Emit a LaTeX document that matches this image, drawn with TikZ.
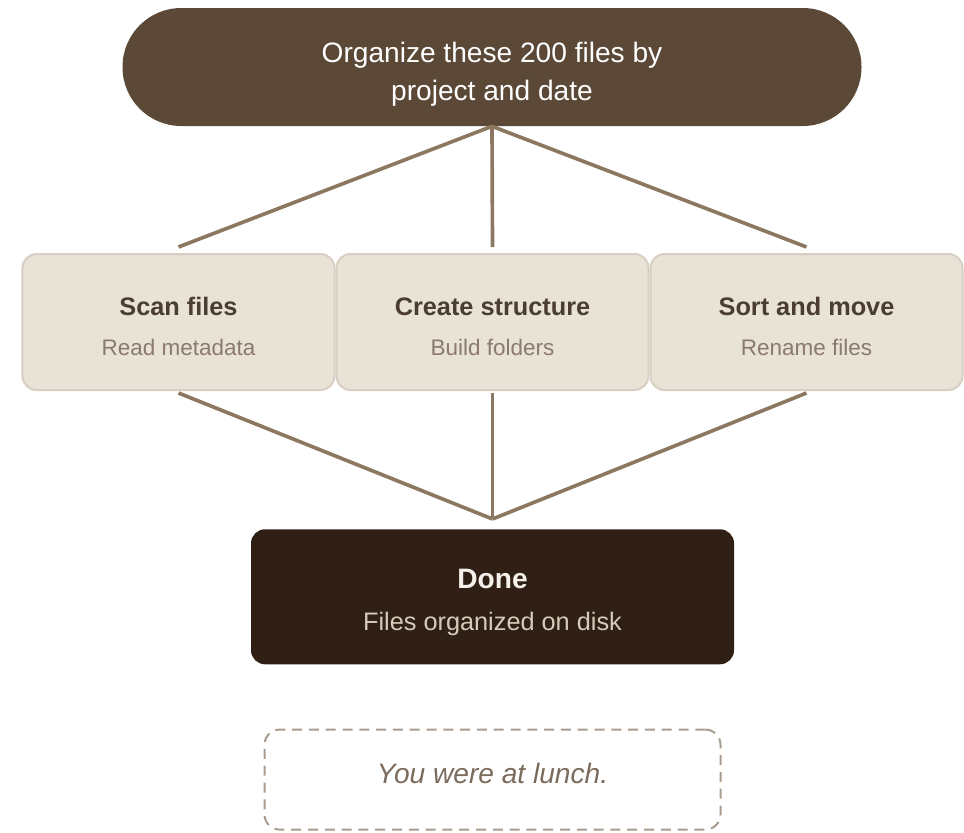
\documentclass[tikz,border=0pt]{standalone}
\usepackage{fontspec}
\setmainfont{Liberation Sans}
\usetikzlibrary{positioning}

\definecolor{goalfill}{HTML}{5B4836}
\definecolor{linkcol}{HTML}{8C7761}
\definecolor{stepfill}{HTML}{E9E2D7}
\definecolor{stepline}{HTML}{D8CFC2}
\definecolor{titlecol}{HTML}{4A3D31}
\definecolor{subcol}{HTML}{8A7B6C}
\definecolor{donefill}{HTML}{2F1F14}
\definecolor{donetitle}{HTML}{F5F1EA}
\definecolor{donesub}{HTML}{D6CBBB}
\definecolor{dashcol}{HTML}{A99C8D}
\definecolor{lunchcol}{HTML}{7B6B5C}

\begin{document}
\begin{tikzpicture}[
	goalbox/.style={fill=goalfill, rounded corners=1.47cm,
		minimum width=18.475cm, minimum height=2.95cm},
	stepbox/.style={draw=stepline, fill=stepfill, line width=0.05cm,
		rounded corners=0.35cm, minimum width=7.8cm, minimum height=3.4cm},
	donebox/.style={fill=donefill, rounded corners=0.35cm,
		minimum width=12.075cm, minimum height=3.375cm},
	notebox/.style={draw=dashcol, line width=0.05cm, dash pattern=on 0.25cm off 0.17cm,
		rounded corners=0.38cm, minimum width=11.4cm, minimum height=2.5cm},
	steptitle/.style={anchor=base, text=titlecol, font=\fontsize{18}{22}\selectfont\bfseries},
	stepsub/.style={anchor=base, text=subcol, font=\fontsize{16}{20}\selectfont},
	link/.style={draw=linkcol, line width=2.6pt}]

	\useasboundingbox (0,0) rectangle (24.1,-20.8);

	% Goal at the top
	\node (goal) [goalbox] at (12.3,-1.675) {};
	\node (goaltext) [align=center, text=white, font=\fontsize{20}{27}\selectfont]
		at ([yshift=-0.17cm]goal.center) {Organize these 200 files by\\project and date};

	% The three steps
	\node (scan) [stepbox] at (4.4625,-8.05) {};
	\node (create) [stepbox, right=0cm of scan] {};
	\node (sort) [stepbox, right=0cm of create] {};

	\node (scant) [steptitle] at ([yshift=0.175cm]scan.center) {Scan files};
	\node (scans) [stepsub] at ([yshift=-0.825cm]scan.center) {Read metadata};
	\node (createt) [steptitle] at ([yshift=0.175cm]create.center) {Create structure};
	\node (creates) [stepsub] at ([yshift=-0.825cm]create.center) {Build folders};
	\node (sortt) [steptitle] at ([yshift=0.175cm]sort.center) {Sort and move};
	\node (sorts) [stepsub] at ([yshift=-0.825cm]sort.center) {Rename files};

	% Result
	\node (done) [donebox, below=3.45cm of create] {};
	\node (donet) [anchor=base, text=donetitle, font=\fontsize{20}{24}\selectfont\bfseries]
		at ([yshift=0.2125cm]done.center) {Done};
	\node (dones) [anchor=base, text=donesub, font=\fontsize{18}{22}\selectfont]
		at ([yshift=-0.8375cm]done.center) {Files organized on disk};

	\node (lunch) [notebox, below=1.6cm of done] {};
	\node (luncht) [anchor=base, text=lunchcol, font=\fontsize{20}{24}\selectfont\itshape]
		at ([yshift=-0.1cm]lunch.center) {You were at lunch.};

	% Lines from goal to steps
	\draw[link] (goal.south) -- ([yshift=0.15cm]scan.north);
	\draw[link] (goal.south) -- ([yshift=0.15cm]create.north);
	\draw[link] (goal.south) -- ([yshift=0.15cm]sort.north);

	% Lines from steps to result
	\draw[link] ([yshift=-0.05cm]scan.south) -- ([yshift=0.25cm]done.north);
	\draw[link] ([yshift=-0.05cm]create.south) -- ([yshift=0.25cm]done.north);
	\draw[link] ([yshift=-0.05cm]sort.south) -- ([yshift=0.25cm]done.north);

\end{tikzpicture}
\end{document}
